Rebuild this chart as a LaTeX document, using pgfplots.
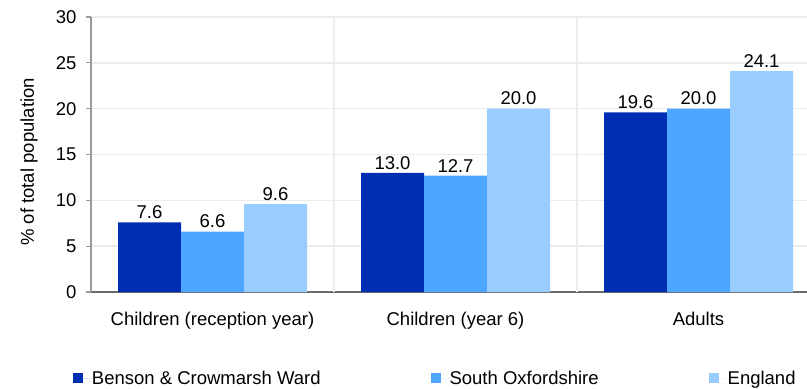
\documentclass[border=0pt]{standalone}
\usepackage{pgfplots}
\pgfplotsset{compat=1.18}
\usepackage{fontspec}
\setmainfont{Liberation Sans}
\definecolor{cA}{RGB}{0,46,178}
\definecolor{cB}{RGB}{77,166,255}
\definecolor{cC}{RGB}{153,204,255}
\definecolor{gridc}{RGB}{236,236,236}
\newcommand{\chartfont}{\fontsize{18.5bp}{22bp}\selectfont}
\begin{document}
\begin{tikzpicture}[x=1bp,y=1bp]
\useasboundingbox (0,0) rectangle (807,388);
\begin{axis}[
  at={(91bp,96bp)}, anchor=south west,
  scale only axis, width=729bp, height=275bp,
  font=\chartfont,
  tick label style={font=\chartfont},
  /pgf/number format/assume math mode=true,
  ymin=0, ymax=30, ytick={0,5,...,30},
  xmin=-0.5, xmax=2.5,
  xtick={0,1,2},
  xticklabels={Children (reception year),Children (year 6),Adults},
  x tick style={draw=none},
  xticklabel style={yshift=-12bp},
  yticklabel style={xshift=-6bp},
  extra x ticks={0.5,1.5},
  extra x tick labels={},
  extra x tick style={grid=major, major tick length=0pt},
  ymajorgrids,
  grid style={gridc, line width=1.5bp},
  axis x line*=bottom, axis y line*=left,
  x axis line style={-, draw=gray!85!black, line width=2bp},
  y axis line style={-, draw=gray!80, line width=1.5bp},
  y tick style={draw=gray!80, line width=1.2bp},
  major tick length=5bp,
  tick align=outside,
  ylabel={\% of total population},
  ylabel style={at={(axis description cs:-0.085,0.473)}, anchor=center, font=\chartfont},
  ybar=0pt, bar width=63bp,
  nodes near coords,
  nodes near coords style={font=\chartfont, /pgf/number format/.cd, fixed, fixed zerofill, precision=1, /tikz/.cd, anchor=south, yshift=0bp},
  legend columns=3,
  legend style={at={(axis description cs:-0.025,-0.313)}, anchor=west, draw=none, fill=none, inner sep=0pt,
    /tikz/every even column/.append style={column sep=110bp},
    nodes={inner sep=0pt, anchor=west},
    font=\chartfont},
  legend image code/.code={\fill[#1] (0bp,-5bp) rectangle (10bp,5bp); \path (0bp,0bp) -- (19bp,0bp);},
  clip=false,
]
\addplot[fill=cA, draw=none] coordinates {(0,7.6) (1,13.0) (2,19.6)};
\addplot[fill=cB, draw=none] coordinates {(0,6.6) (1,12.7) (2,20.0)};
\addplot[fill=cC, draw=none] coordinates {(0,9.6) (1,20.0) (2,24.1)};
\legend{Benson \& Crowmarsh Ward, South Oxfordshire, England}
\end{axis}
\end{tikzpicture}
\end{document}
